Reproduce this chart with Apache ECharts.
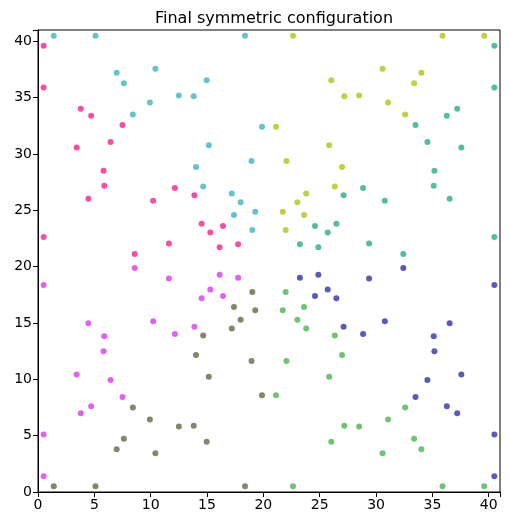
<!DOCTYPE html>
<html>
<head>
<meta charset="utf-8">
<script src="https://cdn.jsdelivr.net/npm/echarts@6/dist/echarts.min.js"></script>
<style>html,body{margin:0;padding:0;background:#fff;}#c{width:509px;height:526px;}</style>
</head>
<body>
<div id="c"></div>
<script>
const titleText = "Final symmetric configuration";
const xTicks = [0, 5, 10, 15, 20, 25, 30, 35, 40];
const yTicks = [0, 5, 10, 15, 20, 25, 30, 35, 40];

const pinkPts = [[0.5,39.6],[0.5,35.9],[3.8,34.02],[4.72,33.38],[7.5,32.58],[6.44,31.07],[3.43,30.58],[5.82,28.5],[5.88,27.18],[4.47,26.03],[10.22,25.84],[12.15,26.98],[13.88,26.34],[0.5,22.63],[14.52,23.8],[16.42,23.61],[15.29,23.02],[11.62,22.05],[16.12,21.72],[17.76,21.98],[8.58,21.12]];
const tealPts = [[1.4,40.5],[5.1,40.5],[6.98,37.2],[7.62,36.28],[8.42,33.5],[9.93,34.56],[10.42,37.57],[12.5,35.18],[13.82,35.12],[14.97,36.53],[15.16,30.78],[14.02,28.85],[14.66,27.12],[18.37,40.5],[17.2,26.48],[17.39,24.58],[17.98,25.71],[18.95,29.38],[19.28,24.88],[19.02,23.24],[19.88,32.42]];
const yellowPts = [[39.6,40.5],[35.9,40.5],[34.02,37.2],[33.38,36.28],[32.58,33.5],[31.07,34.56],[30.58,37.57],[28.5,35.18],[27.18,35.12],[26.03,36.53],[25.84,30.78],[26.98,28.85],[26.34,27.12],[22.63,40.5],[23.8,26.48],[23.61,24.58],[23.02,25.71],[22.05,29.38],[21.72,24.88],[21.98,23.24],[21.12,32.42]];
const tealGreenPts = [[40.5,39.6],[40.5,35.9],[37.2,34.02],[36.28,33.38],[33.5,32.58],[34.56,31.07],[37.57,30.58],[35.18,28.5],[35.12,27.18],[36.53,26.03],[30.78,25.84],[28.85,26.98],[27.12,26.34],[40.5,22.63],[26.48,23.8],[24.58,23.61],[25.71,23.02],[29.38,22.05],[24.88,21.72],[23.24,21.98],[32.42,21.12]];
const bluePts = [[40.5,1.4],[40.5,5.1],[37.2,6.98],[36.28,7.62],[33.5,8.42],[34.56,9.93],[37.57,10.42],[35.18,12.5],[35.12,13.82],[36.53,14.97],[30.78,15.16],[28.85,14.02],[27.12,14.66],[40.5,18.37],[26.48,17.2],[24.58,17.39],[25.71,17.98],[29.38,18.95],[24.88,19.28],[23.24,19.02],[32.42,19.88]];
const greenPts = [[39.6,0.5],[35.9,0.5],[34.02,3.8],[33.38,4.72],[32.58,7.5],[31.07,6.44],[30.58,3.43],[28.5,5.82],[27.18,5.88],[26.03,4.47],[25.84,10.22],[26.98,12.15],[26.34,13.88],[22.63,0.5],[23.8,14.52],[23.61,16.42],[23.02,15.29],[22.05,11.62],[21.72,16.12],[21.98,17.76],[21.12,8.58]];
const olivePts = [[1.4,0.5],[5.1,0.5],[6.98,3.8],[7.62,4.72],[8.42,7.5],[9.93,6.44],[10.42,3.43],[12.5,5.82],[13.82,5.88],[14.97,4.47],[15.16,10.22],[14.02,12.15],[14.66,13.88],[18.37,0.5],[17.2,14.52],[17.39,16.42],[17.98,15.29],[18.95,11.62],[19.28,16.12],[19.02,17.76],[19.88,8.58]];
const magentaPts = [[0.5,1.4],[0.5,5.1],[3.8,6.98],[4.72,7.62],[7.5,8.42],[6.44,9.93],[3.43,10.42],[5.82,12.5],[5.88,13.82],[4.47,14.97],[10.22,15.16],[12.15,14.02],[13.88,14.66],[0.5,18.37],[14.52,17.2],[16.42,17.39],[15.29,17.98],[11.62,18.95],[16.12,19.28],[17.76,19.02],[8.58,19.88]];

const groups = [
  { name: "pink", data: pinkPts, color: "#f7439f" },
  { name: "teal", data: tealPts, color: "#5cc1c6" },
  { name: "yellow", data: yellowPts, color: "#bdcc3b" },
  { name: "tealgreen", data: tealGreenPts, color: "#49ba97" },
  { name: "blue", data: bluePts, color: "#5151b6" },
  { name: "green", data: greenPts, color: "#67c06b" },
  { name: "olive", data: olivePts, color: "#788262" },
  { name: "magenta", data: magentaPts, color: "#e157f7" }
];

const font = "DejaVu Sans";
const chart = echarts.init(document.getElementById('c'), null, { renderer: 'canvas' });
chart.setOption({
  animation: false,
  backgroundColor: '#fff',
  title: {
    text: titleText, left: 269, top: 6, textAlign: 'center',
    textStyle: { fontFamily: font, fontSize: 16, fontWeight: 'normal', color: '#000' }
  },
  grid: { left: 38, right: 9, top: 30, bottom: 34, show: true, borderColor: '#000', borderWidth: 1, backgroundColor: 'transparent' },
  xAxis: {
    type: 'value', min: 0, max: 41, interval: 5,
    axisLine: { show: true, onZero: false, lineStyle: { color: '#000', width: 1 } },
    axisTick: { show: true, length: 5, lineStyle: { color: '#000' } },
    axisLabel: { fontFamily: font, fontSize: 14, color: '#000', margin: 6,
      formatter: v => xTicks.includes(v) ? String(v) : '' },
    splitLine: { show: false }
  },
  yAxis: {
    type: 'value', min: 0, max: 41, interval: 5,
    axisLine: { show: true, onZero: false, lineStyle: { color: '#000', width: 1 } },
    axisTick: { show: true, length: 5, lineStyle: { color: '#000' } },
    axisLabel: { fontFamily: font, fontSize: 14, color: '#000', margin: 6,
      formatter: v => yTicks.includes(v) ? String(v) : '' },
    splitLine: { show: false }
  },
  series: groups.map(g => ({
    type: 'scatter', name: g.name, data: g.data, symbolSize: 6,
    itemStyle: { color: g.color, opacity: 0.95 }
  }))
});
</script>
</body>
</html>
